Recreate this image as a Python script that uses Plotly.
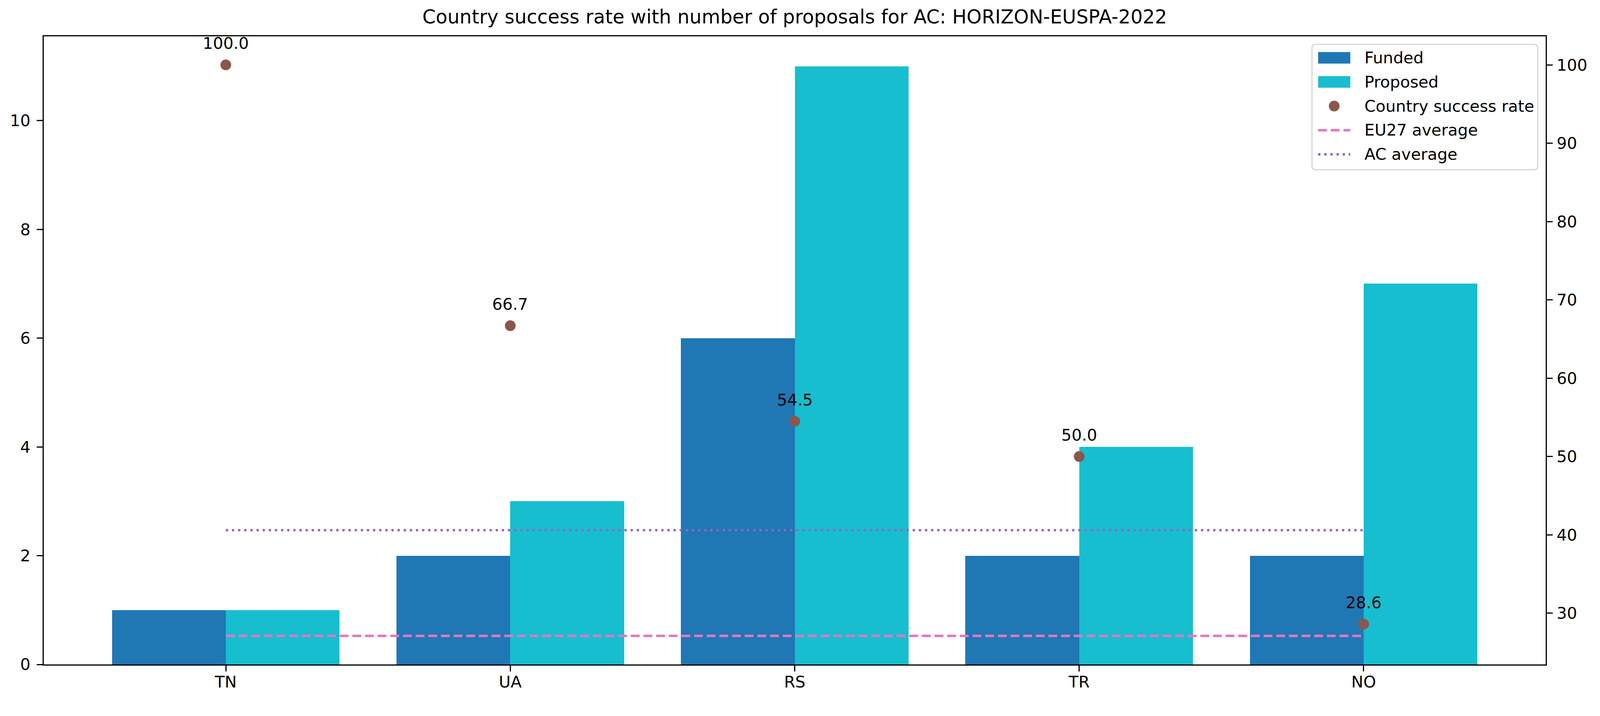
import plotly.graph_objects as go

countries = ["TN", "UA", "RS", "TR", "NO"]
funded = [1, 2, 6, 2, 2]
proposed = [1, 3, 11, 4, 7]
success_rate = [100.0, 66.7, 54.5, 50.0, 28.6]
eu27_average = 27.1
ac_average = 40.6
left_ticks = [0, 2, 4, 6, 8, 10]
right_ticks = [30, 40, 50, 60, 70, 80, 90, 100]
legend_labels = ["Funded", "Proposed", "Country success rate", "EU27 average", "AC average"]

# The photographed page appears slightly zoomed and offset; lay the figure out in page px
K = 0.981
OFF = 6


def s(v):
    return v * K


FONT = "DejaVu Sans"
FS = s(42)
W, H = round(s(4170) - OFF), round(s(1833) - OFF)
ML, MT = s(112) - OFF, s(93) - OFF
MR, MB = W - (s(4032) - OFF), H - (s(1732) - OFF)
PW, PH = W - ML - MR, H - MT - MB

C_FUND, C_PROP, C_RATE, C_EU, C_AC = "#1f77b4", "#17becf", "#8c564b", "#e377c2", "#9467bd"
LW = s(6.25)
DASH_EU = f"{s(23):.1f}px,{s(10):.1f}px"
DASH_AC = f"{s(6):.1f}px,{s(10):.1f}px"

idx = list(range(len(countries)))
bar_w = 0.4

fig = go.Figure()
fig.add_trace(go.Bar(x=idx, y=funded, name="Funded", marker=dict(color=C_FUND, line=dict(width=0)),
                     width=bar_w, offset=-bar_w, showlegend=False))
fig.add_trace(go.Bar(x=idx, y=proposed, name="Proposed", marker=dict(color=C_PROP, line=dict(width=0)),
                     width=bar_w, offset=0, showlegend=False))
fig.add_trace(go.Scatter(x=idx, y=success_rate, mode="markers", name="Country success rate",
                         marker=dict(color=C_RATE, size=s(28)), yaxis="y2", showlegend=False))
fig.add_trace(go.Scatter(x=idx, y=[eu27_average] * len(idx), mode="lines", name="EU27 average",
                         line=dict(color=C_EU, width=LW, dash=DASH_EU), yaxis="y2", showlegend=False))
fig.add_trace(go.Scatter(x=idx, y=[ac_average] * len(idx), mode="lines", name="AC average",
                         line=dict(color=C_AC, width=LW, dash=DASH_AC), yaxis="y2", showlegend=False))

for i, v in zip(idx, success_rate):
    fig.add_annotation(x=i, y=v, xref="x", yref="y2", text=f"{v:.1f}", showarrow=False,
                       yanchor="middle", xanchor="center", yshift=s(56),
                       font=dict(family=FONT, size=FS, color="black"))


# ---- legend drawn in axes-relative (paper) coordinates, matplotlib style ----
def px(xp):
    return (xp - ML) / PW


def py(yp):
    return (H - MB - yp) / PH


right_x = ML + PW - s(21)
top_y = MT + s(21)
box_w, box_h = s(589), s(327)
bx0, bx1 = right_x - box_w, right_x
by0, by1 = top_y, top_y + box_h
r = s(10)
rx, ry = r / PW, r / PH
x0, x1, y0, y1 = px(bx0), px(bx1), py(by1), py(by0)
path = (f"M{x0 + rx},{y0} L{x1 - rx},{y0} Q{x1},{y0} {x1},{y0 + ry} L{x1},{y1 - ry} "
        f"Q{x1},{y1} {x1 - rx},{y1} L{x0 + rx},{y1} Q{x0},{y1} {x0},{y1 - ry} "
        f"L{x0},{y0 + ry} Q{x0},{y0} {x0 + rx},{y0} Z")
fig.add_shape(type="path", path=path, xref="paper", yref="paper", fillcolor="rgba(255,255,255,0.8)",
              line=dict(color="#d5d5d5", width=s(3)), layer="above")

h_x0 = bx0 + s(16)
h_x1 = h_x0 + s(84)
text_x = bx0 + s(135)
row_y = [by0 + s(35) + s(63) * k for k in range(5)]

for k, col in enumerate([C_FUND, C_PROP]):
    fig.add_shape(type="rect", xref="paper", yref="paper", x0=px(h_x0), x1=px(h_x1),
                  y0=py(row_y[k] + s(15)), y1=py(row_y[k] - s(15)), fillcolor=col, line=dict(width=0),
                  layer="above")
cx, cy, rad = (h_x0 + h_x1) / 2, row_y[2], s(14)
fig.add_shape(type="circle", xref="paper", yref="paper", x0=px(cx - rad), x1=px(cx + rad),
              y0=py(cy + rad), y1=py(cy - rad), fillcolor=C_RATE, line=dict(width=0), layer="above")
for k, col, dash in [(3, C_EU, DASH_EU), (4, C_AC, DASH_AC)]:
    fig.add_shape(type="line", xref="paper", yref="paper", x0=px(h_x0), x1=px(h_x1),
                  y0=py(row_y[k]), y1=py(row_y[k]), line=dict(color=col, width=LW, dash=dash),
                  layer="above")
for k, lab in enumerate(legend_labels):
    fig.add_annotation(x=px(text_x), y=py(row_y[k]), xref="paper", yref="paper", text=lab,
                       showarrow=False, xanchor="left", yanchor="middle",
                       font=dict(family=FONT, size=FS, color="black"))

# matplotlib-like autoscale margins
xmin, xmax = -bar_w, idx[-1] + bar_w
xm = 0.05 * (xmax - xmin)
ymax_left = max(max(funded), max(proposed))
r_vals = success_rate + [eu27_average, ac_average]
rmin, rmax = min(r_vals), max(r_vals)
rm = 0.05 * (rmax - rmin)

axis_common = dict(showline=True, linecolor="black", linewidth=s(3.3), ticks="outside",
                   ticklen=s(15), tickwidth=s(3.3), tickcolor="black", showgrid=False, zeroline=False,
                   tickfont=dict(family=FONT, size=FS, color="black"))

fig.update_layout(
    width=W, height=H,
    margin=dict(l=ML, r=MR, t=MT, b=MB),
    paper_bgcolor="white", plot_bgcolor="white",
    barmode="overlay", bargap=0,
    font=dict(family=FONT, size=FS, color="black"),
    title=dict(text="Country success rate with number of proposals for AC: HORIZON-EUSPA-2022",
               x=0.5, xanchor="center", xref="paper", y=1 - (s(42) - OFF) / H, yanchor="middle",
               yref="container", font=dict(family=FONT, size=s(50), color="black")),
    xaxis=dict(range=[xmin - xm, xmax + xm], tickvals=idx, ticktext=countries, mirror=True,
               ticklabelstandoff=-8, **axis_common),
    yaxis=dict(range=[0, ymax_left * 1.05], tickvals=left_ticks, ticklabelstandoff=8, **axis_common),
    yaxis2=dict(range=[rmin - rm, rmax + rm], tickvals=right_ticks, overlaying="y", side="right",
                ticklabelstandoff=2, **axis_common),
    showlegend=False,
)

fig.write_html("out.html")
